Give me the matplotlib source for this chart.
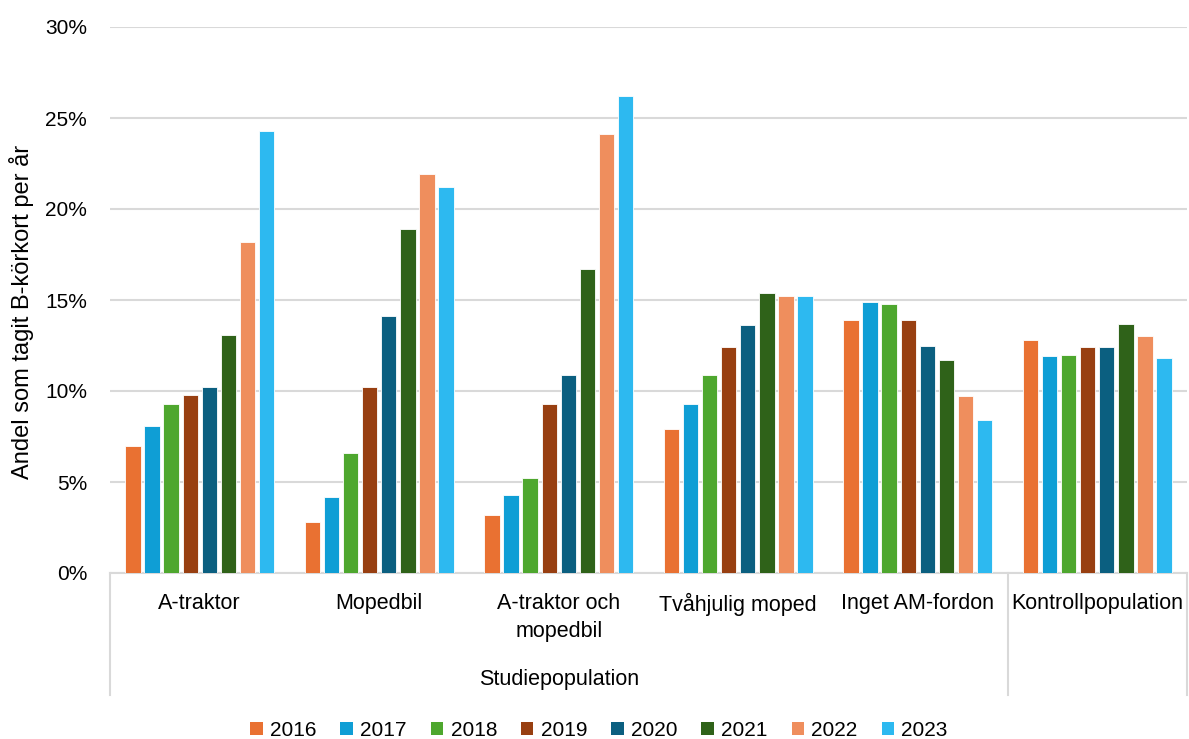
import numpy as np
import matplotlib.pyplot as plt
from matplotlib.patches import Patch

# Data
grupper = ['A-traktor', 'Mopedbil', 'A-traktor och\nmopedbil', 'Tvåhjulig moped',
           'Inget AM-fordon', 'Kontrollpopulation']
ar = ['2016', '2017', '2018', '2019', '2020', '2021', '2022', '2023']
v2016 = [7.0, 2.8, 3.2, 7.9, 13.9, 12.8]
v2017 = [8.1, 4.2, 4.3, 9.3, 14.9, 11.9]
v2018 = [9.3, 6.6, 5.2, 10.9, 14.8, 12.0]
v2019 = [9.8, 10.2, 9.3, 12.4, 13.9, 12.4]
v2020 = [10.2, 14.1, 10.9, 13.6, 12.5, 12.4]
v2021 = [13.1, 18.9, 16.7, 15.4, 11.7, 13.7]
v2022 = [18.2, 21.9, 24.1, 15.2, 9.7, 13.0]
v2023 = [24.3, 21.2, 26.2, 15.2, 8.4, 11.8]
serier = [v2016, v2017, v2018, v2019, v2020, v2021, v2022, v2023]
farger = ['#E97132', '#0F9ED5', '#4EA72E', '#983F11', '#0B5F80', '#2F6219', '#EF8E5D', '#2DB9F0']

plt.rcParams['font.family'] = ['Liberation Sans', 'DejaVu Sans']

fig = plt.figure(figsize=(11.89, 7.39), dpi=100)
W, H = 1189, 739
ax = fig.add_axes([110 / W, (H - 573) / H, (1187 - 110) / W, (573 - 27) / H])

x = np.arange(len(grupper))
steg = 0.106
bredd = 0.086
for i, (s, c) in enumerate(zip(serier, farger)):
    ax.bar(x + (i - 3.5) * steg, s, bredd, color=c, edgecolor='white', linewidth=0.6, zorder=3)

ax.set_xlim(-0.5, 5.5)
ax.set_ylim(0, 30)
ax.set_yticks(np.arange(0, 31, 5))
ax.set_yticklabels([f'{v}%' for v in range(0, 31, 5)], fontsize=15)
ax.tick_params(axis='y', length=0, pad=16.5)
ax.grid(axis='y', color='#D9D9D9', linewidth=1.5, zorder=0)
ax.set_xticks([])
for sp in ['top', 'right', 'left']:
    ax.spines[sp].set_visible(False)
ax.spines['bottom'].set_color('#D9D9D9')
ax.spines['bottom'].set_linewidth(1.5)

# multi-level category axis
tr = ax.get_xaxis_transform()
botten = -(695 - 573) / (573 - 27)
for xv in [-0.5, 4.5, 5.5]:
    ax.plot([xv, xv], [0, botten], color='#D9D9D9', linewidth=1.5, transform=tr, clip_on=False)
for xi, g in zip(x, grupper):
    ax.text(xi, -(593 - 573) / (573 - 27), g, transform=tr, ha='center', va='top',
            fontsize=15.5, linespacing=1.45)
ax.text(2, -(669 - 573) / (573 - 27), 'Studiepopulation', transform=tr, ha='center', va='top',
        fontsize=15.5)

fig.text(22 / W, 1 - 312 / H, 'Andel som tagit B-körkort per år', rotation=90,
         ha='center', va='center', fontsize=17)

handles = [Patch(facecolor=c, edgecolor='none') for c in farger]
fig.legend(handles, ar, loc='center', bbox_to_anchor=(599 / W, 1 - 730 / H), ncol=8,
           frameon=False, fontsize=15, handlelength=0.6, handleheight=0.6,
           handletextpad=0.35, columnspacing=1.15)

fig.savefig('out.png', dpi=100)
